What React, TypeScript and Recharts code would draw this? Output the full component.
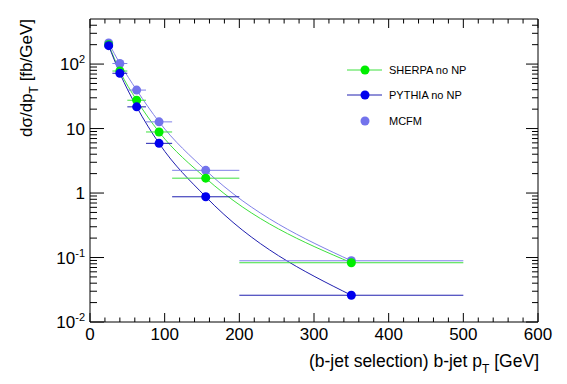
import React from 'react';
import { ComposedChart, Line, Scatter, XAxis, YAxis, ErrorBar } from 'recharts';

// ---- data ----
const binCenters = [25, 40, 62.5, 92.5, 155, 350];
const binHalfWidths = [5, 10, 12.5, 17.5, 45, 150];
const sherpaValues = [200, 78, 27.5, 8.85, 1.7, 0.083];
const pythiaValues = [193, 72, 21.7, 5.9, 0.875, 0.026];
const mcfmValues = [212, 102, 39.5, 12.7, 2.25, 0.089];

const xMajorTicks = [0, 100, 200, 300, 400, 500, 600];
const xMinorStep = 20;
const yMajorTicks = [0.01, 0.1, 1, 10, 100];
const yTickLabels: { base: string; exp: string }[] = [
  { base: '10', exp: '-2' },
  { base: '10', exp: '-1' },
  { base: '1', exp: '' },
  { base: '10', exp: '' },
  { base: '10', exp: '2' },
];
const seriesNames = ['SHERPA no NP', 'PYTHIA no NP', 'MCFM'];
const xTitle = '(b-jet selection) b-jet p';
const yTitle = 'd\u03c3/dp';

// ---- styles ----
const FONT = '"Liberation Sans", Arial, Helvetica, sans-serif';
const C = {
  sherpaLine: '#3ee03e',
  sherpaMark: '#00ee00',
  pythiaLine: '#2020b0',
  pythiaMark: '#0000ee',
  mcfmLine: '#8080e8',
  mcfmMark: '#7373ec',
};

const data = binCenters.map((x, i) => ({
  x,
  xerr: binHalfWidths[i],
  sherpa: sherpaValues[i],
  pythia: pythiaValues[i],
  mcfm: mcfmValues[i],
}));

const xAllTicks: number[] = [];
for (let v = 0; v <= 600; v += xMinorStep) xAllTicks.push(v);
const yAllTicks: number[] = [];
yMajorTicks.forEach((d) => {
  for (let m = 1; m <= 9; m++) {
    const v = +(d * m).toPrecision(3);
    if (v < 500) yAllTicks.push(v);
  }
});

const isXMajor = (v: number) => xMajorTicks.includes(v);
const isYMajor = (v: number) => yMajorTicks.some((m) => Math.abs(m - v) / m < 1e-6);

const BottomTick = (p: any) => {
  const v = p.payload.value;
  const major = isXMajor(v);
  return (
    <g>
      <line x1={p.x} x2={p.x} y1={p.y} y2={p.y - (major ? 9 : 4.5)} stroke="#000" strokeWidth={1} />
      {major && (
        <text x={p.x} y={p.y + 18} textAnchor="middle" fontSize={17} fontFamily={FONT} fill="#000">
          {v}
        </text>
      )}
    </g>
  );
};
const TopTick = (p: any) => {
  const major = isXMajor(p.payload.value);
  return <line x1={p.x} x2={p.x} y1={p.y} y2={p.y + (major ? 9 : 4.5)} stroke="#000" strokeWidth={1} />;
};
const LeftTick = (p: any) => {
  const v = p.payload.value;
  const major = isYMajor(v);
  const idx = yMajorTicks.findIndex((m) => Math.abs(m - v) / m < 1e-6);
  const lab = idx >= 0 ? yTickLabels[idx] : null;
  return (
    <g>
      <line x1={p.x} x2={p.x + (major ? 14 : 7)} y1={p.y} y2={p.y} stroke="#000" strokeWidth={1} />
      {lab && (
        <text x={p.x - 5} y={p.y + 6} textAnchor="end" fontSize={17} fontFamily={FONT} fill="#000">
          <tspan>{lab.base}</tspan>
          {lab.exp && (
            <tspan dy={-7} fontSize={11}>
              {lab.exp}
            </tspan>
          )}
        </text>
      )}
    </g>
  );
};
const RightTick = (p: any) => {
  const major = isYMajor(p.payload.value);
  return <line x1={p.x} x2={p.x - (major ? 12 : 6)} y1={p.y} y2={p.y} stroke="#000" strokeWidth={1} />;
};

const dot = (color: string) => (p: any) => <circle cx={p.cx} cy={p.cy} r={4.5} fill={color} />;

const Legendish = () => (
  <svg width={200} height={80} style={{ position: 'absolute', left: 340, top: 55 }}>
    <line x1={7} x2={42} y1={15} y2={15} stroke={C.sherpaLine} strokeWidth={1} />
    <circle cx={25} cy={15} r={4.5} fill={C.sherpaMark} />
    <text x={49} y={19} fontSize={11} fontFamily={FONT} fill="#000">{seriesNames[0]}</text>
    <line x1={7} x2={42} y1={40} y2={40} stroke={C.pythiaLine} strokeWidth={1} />
    <circle cx={25} cy={40} r={4.5} fill={C.pythiaMark} />
    <text x={49} y={44} fontSize={11} fontFamily={FONT} fill="#000">{seriesNames[1]}</text>
    <circle cx={25} cy={66} r={4.5} fill={C.mcfmMark} />
    <text x={49} y={70} fontSize={11} fontFamily={FONT} fill="#000">{seriesNames[2]}</text>
  </svg>
);

export default function App() {
  return (
    <div style={{ position: 'absolute', left: 0, top: 0, width: 567, height: 384, background: '#fff' }}>
      <ComposedChart
        width={567}
        height={384}
        data={data}
        margin={{ top: 18, right: 28, bottom: 0, left: 0 }}
      >
        <XAxis
          dataKey="x"
          type="number"
          domain={[0, 600]}
          ticks={xAllTicks}
          interval={0}
          tickSize={0}
          tickMargin={0}
          tickLine={false}
          tick={BottomTick}
          height={62}
          stroke="#000"
          allowDataOverflow
        />
        <XAxis
          xAxisId="top"
          dataKey="x"
          orientation="top"
          type="number"
          domain={[0, 600]}
          ticks={xAllTicks}
          interval={0}
          tickSize={0}
          tickMargin={0}
          tickLine={false}
          tick={TopTick}
          height={1}
          stroke="#000"
          allowDataOverflow
        />
        <YAxis
          type="number"
          scale="log"
          domain={[0.01, 500]}
          ticks={yAllTicks}
          interval={0}
          tickSize={0}
          tickMargin={0}
          tickLine={false}
          tick={LeftTick}
          width={90}
          stroke="#000"
          allowDataOverflow
        />
        <YAxis
          yAxisId="right"
          orientation="right"
          type="number"
          scale="log"
          domain={[0.01, 500]}
          ticks={yAllTicks}
          interval={0}
          tickSize={0}
          tickMargin={0}
          tickLine={false}
          tick={RightTick}
          width={1}
          stroke="#000"
          allowDataOverflow
        />
        {/* invisible series so the frame axes (top/right) get rendered */}
        <Line xAxisId="top" yAxisId="right" dataKey="sherpa" stroke="none" dot={false} activeDot={false} isAnimationActive={false} legendType="none" />
        <Line type="monotone" dataKey="mcfm" stroke={C.mcfmLine} strokeWidth={1} dot={false} activeDot={false} isAnimationActive={false} />
        <Line type="monotone" dataKey="sherpa" stroke={C.sherpaLine} strokeWidth={1} dot={false} activeDot={false} isAnimationActive={false} />
        <Line type="monotone" dataKey="pythia" stroke={C.pythiaLine} strokeWidth={1} dot={false} activeDot={false} isAnimationActive={false} />
        <Scatter dataKey="mcfm" shape={dot(C.mcfmMark)} isAnimationActive={false}>
          <ErrorBar dataKey="xerr" direction="x" width={0} stroke={C.mcfmLine} strokeWidth={1} />
        </Scatter>
        <Scatter dataKey="sherpa" shape={dot(C.sherpaMark)} isAnimationActive={false}>
          <ErrorBar dataKey="xerr" direction="x" width={0} stroke={C.sherpaLine} strokeWidth={1} />
        </Scatter>
        <Scatter dataKey="pythia" shape={dot(C.pythiaMark)} isAnimationActive={false}>
          <ErrorBar dataKey="xerr" direction="x" width={0} stroke={C.pythiaLine} strokeWidth={1} />
        </Scatter>
        <text x={539} y={367} textAnchor="end" fontSize={17.5} fontFamily={FONT} fill="#000">
          <tspan>{xTitle}</tspan>
          <tspan dy={6} fontSize={12}>T</tspan>
          <tspan dy={-6}> [GeV]</tspan>
        </text>
        <text
          x={32}
          y={19}
          transform="rotate(-90 32 19)"
          textAnchor="end"
          fontSize={17}
          fontFamily={FONT}
          fill="#000"
        >
          <tspan>{yTitle}</tspan>
          <tspan dy={6} fontSize={12}>T</tspan>
          <tspan dy={-6}> [fb/GeV]</tspan>
        </text>
      </ComposedChart>
      <Legendish />
    </div>
  );
}
